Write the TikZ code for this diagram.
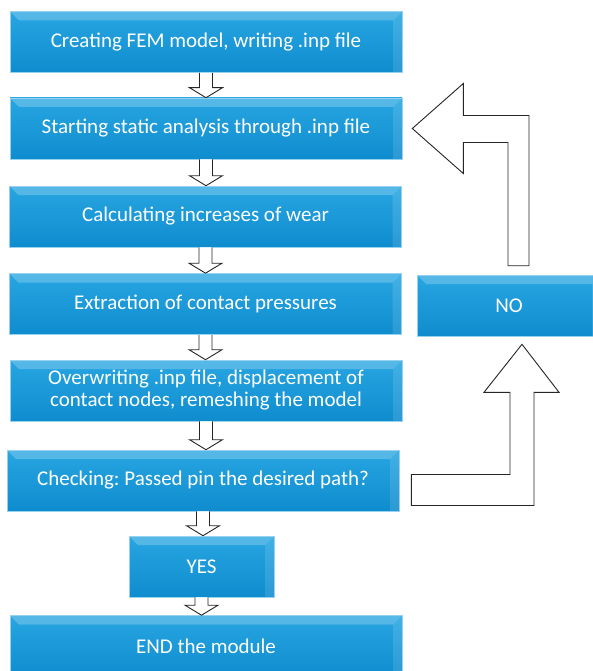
\documentclass[tikz,border=0pt]{standalone}
\usepackage{fontspec}
\setmainfont{Carlito}
\frenchspacing
\usetikzlibrary{calc}
\definecolor{boxtop}{RGB}{40,166,226}
\definecolor{boxbot}{RGB}{14,140,206}
\definecolor{boxedge}{RGB}{150,210,240}
\tikzset{
  flowbox/.style={rectangle,minimum width=392pt,minimum height=61pt,inner sep=0pt,
    top color=boxtop,bottom color=boxbot,draw=boxedge,line width=0.6pt,
    text=white,font=\fontsize{21}{22}\selectfont,align=center,
    path picture={
      \fill[white,opacity=0.22] (path picture bounding box.north west) -- (path picture bounding box.north east)
        -- ([xshift=-9pt,yshift=-9pt]path picture bounding box.north east) -- ([xshift=9pt,yshift=-9pt]path picture bounding box.north west) -- cycle;
      \fill[white,opacity=0.12] (path picture bounding box.north east) -- (path picture bounding box.south east)
        -- ([xshift=-9pt]path picture bounding box.south east) -- ([xshift=-9pt,yshift=-9pt]path picture bounding box.north east) -- cycle;
    }},
  hollow/.style={draw=black!85,fill=white,line width=0.9pt,line join=miter}
}
\newcommand{\flowarrow}[2]{%
  \draw[hollow] let \p1=(#1.south), \p2=(#2.north) in
    (\x1-6.5pt,\y1) -- (\x1-6.5pt,\y2+10pt) -- (\x1-16.5pt,\y2+10pt) -- (\x1,\y2)
    -- (\x1+16.5pt,\y2+10pt) -- (\x1+6.5pt,\y2+10pt) -- (\x1+6.5pt,\y1);}
\begin{document}
\begin{tikzpicture}[x=1pt,y=-1pt]
  \useasboundingbox (0,0) rectangle (593,671);

  \node[flowbox] (create) at (206,42) {Creating FEM model, writing .inp file};
  \node[flowbox] (start) at (206,128.5) {Starting static analysis through .inp file};
  \node[flowbox] (wear) at (205.5,216.5) {Calculating increases of wear};
  \node[flowbox] (press) at (205.5,304) {Extraction of contact pressures};
  \node[flowbox] (remesh) at (206,390.5) {Overwriting .inp file, displacement of\\contact nodes, remeshing the model};
  \node[flowbox] (check) at (203,480.5) {Checking: Passed pin the desired path?};
  \node[flowbox,minimum width=145pt] (yes) at (201.5,566.5) {YES};
  \node[flowbox] (end) at (206,646) {END the module};
  \node[flowbox,minimum width=184pt] (no) at (509,305.5) {NO};

  \flowarrow{create}{start}
  \flowarrow{start}{wear}
  \flowarrow{wear}{press}
  \flowarrow{press}{remesh}
  \flowarrow{remesh}{check}
  \flowarrow{check}{yes}
  \flowarrow{yes}{end}

  \draw[hollow] let \p1=(check.east), \p2=(no.south) in
    (\x1+12pt,\y1+6pt) -- (\x2+1pt,\y1+6pt) -- (\x2+1pt,\y2-56pt) -- (\x2-25pt,\y2-56pt)
    -- (\x2+13pt,\y2-8pt) -- (\x2+50pt,\y2-56pt) -- (\x2+25pt,\y2-56pt)
    -- (\x2+25pt,\y1-25pt) -- (\x1+12pt,\y1-25pt) -- cycle;
  \draw[hollow] let \p1=(no.north), \p2=(start.east) in
    (\x1-1pt,\y1+9pt) -- (\x1-1pt,\y2-14pt) -- (\x2+61pt,\y2-14pt) -- (\x2+61pt,\y2-45pt)
    -- (\x2+10pt,\y2) -- (\x2+61pt,\y2+45pt) -- (\x2+61pt,\y2+13pt)
    -- (\x1+20pt,\y2+13pt) -- (\x1+20pt,\y1+9pt) -- cycle;
\end{tikzpicture}
\end{document}
